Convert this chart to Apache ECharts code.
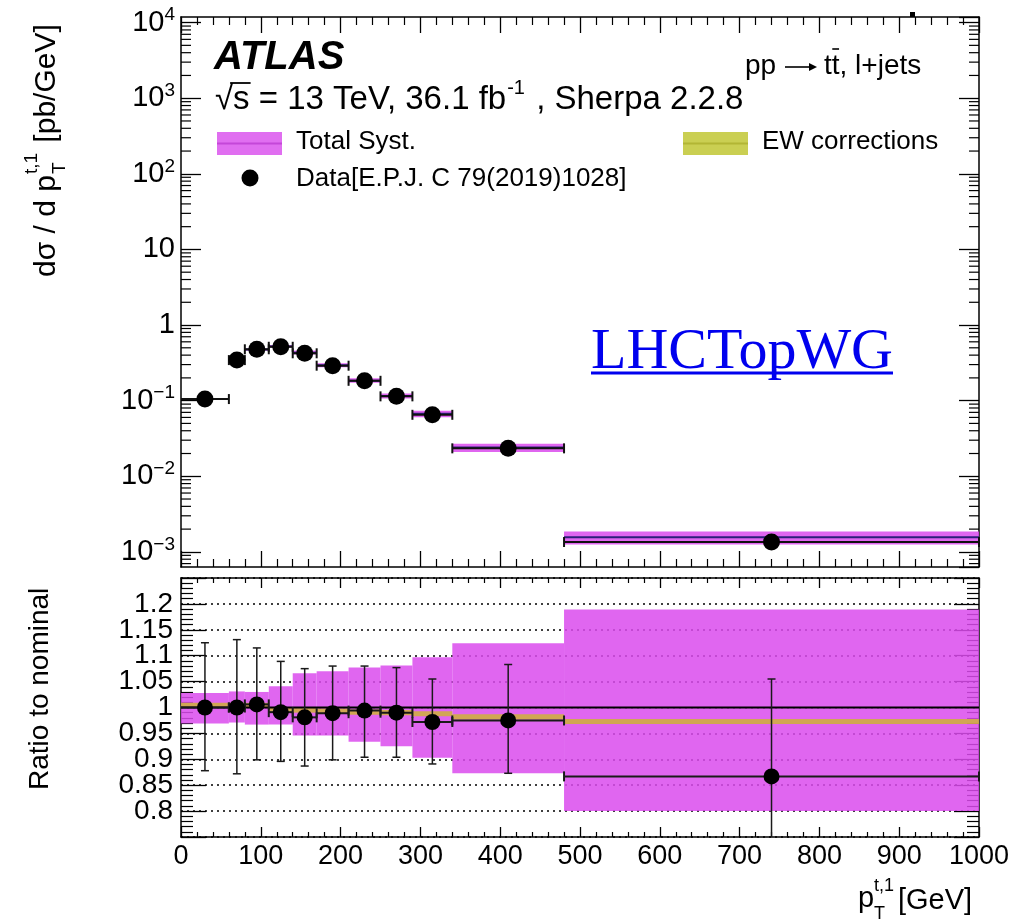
<!DOCTYPE html>
<html><head><meta charset="utf-8">
<script src="https://cdn.jsdelivr.net/npm/echarts@6/dist/echarts.min.js"></script>
<style>html,body{margin:0;padding:0;background:#fff}#c{width:1032px;height:922px}</style>
</head><body><div id="c"></div>
<script>
// ---- data ----
const binEdges      = [0, 60, 80, 110, 140, 170, 210, 250, 290, 340, 480, 1000];
const binCenters    = [30, 70, 95, 125, 155, 190, 230, 270, 315, 410, 740];
const dataXsec      = [0.105, 0.344, 0.478, 0.516, 0.423, 0.290, 0.183, 0.114, 0.065, 0.0234, 0.00135];
const predXsec      = [0.105, 0.344, 0.475, 0.521, 0.431, 0.293, 0.184, 0.115, 0.0669, 0.0240, 0.00156];
const dataRatio     = [1.000, 1.000, 1.006, 0.991, 0.981, 0.989, 0.994, 0.990, 0.972, 0.975, 0.867];
const dataRatioUp   = [1.125, 1.131, 1.115, 1.089, 1.075, 1.080, 1.080, 1.077, 1.055, 1.083, 1.055];
const dataRatioDown = [0.878, 0.872, 0.899, 0.896, 0.887, 0.899, 0.904, 0.904, 0.891, 0.873, 0.679];
const systUp        = [1.028, 1.031, 1.030, 1.041, 1.066, 1.070, 1.077, 1.081, 1.097, 1.124, 1.189];
const systDown      = [0.969, 0.971, 0.967, 0.967, 0.946, 0.946, 0.934, 0.925, 0.903, 0.873, 0.800];
const ewCorr        = [1.004, 1.004, 1.004, 0.996, 0.995, 0.993, 0.991, 0.990, 0.988, 0.982, 0.973];
const ewHalfWidth   = 0.005;
const ratioTickLabels = [0.8, 0.85, 0.9, 0.95, 1, 1.05, 1.1, 1.15, 1.2];
const logMinorMult  = [2, 3, 4, 5, 6, 7, 8, 9];
const logDecades    = [-4, -3, -2, -1, 0, 1, 2, 3];

// ---- style ----
const SANS = '"Liberation Sans", Arial, Helvetica, sans-serif';
const SERIF = '"Liberation Serif", "Times New Roman", serif';
const MAG = 'rgba(219,75,237,0.85)';
const EWC = 'rgba(205,185,40,0.78)';
const YMIN = Math.pow(10, -3.2), YMAX = Math.pow(10, 4.074);

const ctx = document.createElement('canvas').getContext('2d');
function tw(s, font) { ctx.font = font; return ctx.measureText(s).width; }

const nb = binCenters.length;
const idx = Array.from({length: nb}, (_, i) => i);
const topBandData = idx.map(i => [binEdges[i], binEdges[i+1], predXsec[i]*systDown[i], predXsec[i]*systUp[i], predXsec[i]]);
const topXerrData = idx.map(i => [binEdges[i], binEdges[i+1], dataXsec[i]]);
const ratioBandData = idx.map(i => [binEdges[i], binEdges[i+1], systDown[i], systUp[i]]);
const ewBandData = idx.map(i => [binEdges[i], binEdges[i+1], ewCorr[i]-ewHalfWidth, ewCorr[i]+ewHalfWidth]);
const ratioErrData = idx.map(i => [binEdges[i], binEdges[i+1], dataRatio[i], dataRatioDown[i], dataRatioUp[i], binCenters[i]]);
const minorTickVals = [];
logDecades.forEach(e => logMinorMult.forEach(k => { const v = k*Math.pow(10, e); if (v > YMIN && v < YMAX) minorTickVals.push([0, v]); }));

const frame = {show: true, onZero: false, lineStyle: {color: '#000', width: 1.5}};
function xAx(grid, pos, len, mlen, labels) {
  return {gridIndex: grid, type: 'value', min: 0, max: 1000, interval: 100, position: pos,
    axisLine: frame, splitLine: {show: false},
    axisTick: {show: true, inside: true, length: len, lineStyle: {color: '#000', width: 1.3}},
    minorTick: {show: true, splitNumber: 5, length: mlen, lineStyle: {color: '#000', width: 1.2}},
    axisLabel: labels ? {show: true, color: '#000', fontFamily: SANS, fontSize: 27, margin: 6, formatter: v => String(v)} : {show: false}};
}
const logFmt = v => { const e = Math.round(Math.log10(v)); if (e === 0) return '{b|1}'; if (e === 1) return '{b|10}'; return '{b|10}{s|' + (e < 0 ? '\u2212' : '') + Math.abs(e) + '}'; };
function yLog(pos, labels) {
  return {gridIndex: 0, type: 'log', logBase: 10, min: YMIN, max: YMAX, position: pos,
    axisLine: frame, splitLine: {show: false},
    axisTick: {show: true, inside: true, length: 20, lineStyle: {color: '#000', width: 1.3}},
    minorTick: {show: false},
    axisLabel: labels ? {show: true, showMinLabel: false, showMaxLabel: false, margin: 6, formatter: logFmt,
      rich: {b: {fontSize: 29, fontFamily: SANS, color: '#000', lineHeight: 34},
             s: {fontSize: 19, fontFamily: SANS, color: '#000', verticalAlign: 'top', lineHeight: 18}}} : {show: false}};
}
function yRatio(pos, labels) {
  return {gridIndex: 1, type: 'value', min: 0.75, max: 1.25, interval: 0.05, position: pos,
    axisLine: frame,
    splitLine: labels ? {show: true, lineStyle: {color: '#000', width: 1.5, type: [2, 4]}} : {show: false},
    axisTick: {show: true, inside: true, length: 25, lineStyle: {color: '#000', width: 1.3}},
    minorTick: {show: true, splitNumber: 5, length: 12, lineStyle: {color: '#000', width: 1.2}},
    axisLabel: labels ? {show: true, showMinLabel: false, showMaxLabel: false, margin: 8, color: '#000', fontFamily: SANS, fontSize: 28,
      formatter: v => ratioTickLabels.some(t => Math.abs(t - v) < 1e-6) ? String(+v.toFixed(2)) : ''} : {show: false}};
}

function rectItem(api, lo, hi, yl, yh, fill) {
  const a = api.coord([lo, yh]), b = api.coord([hi, yl]);
  return {type: 'rect', shape: {x: a[0], y: a[1], width: b[0]-a[0], height: b[1]-a[1]}, style: {fill: fill}};
}
function hbar(api, lo, hi, y, color, w, capFirst) {
  const a = api.coord([lo, y]), b = api.coord([hi, y]);
  const ch = [{type: 'line', shape: {x1: a[0], y1: a[1], x2: b[0], y2: b[1]}, style: {stroke: color, lineWidth: w}}];
  if (capFirst) ch.push({type: 'line', shape: {x1: a[0], y1: a[1]-5, x2: a[0], y2: a[1]+5}, style: {stroke: color, lineWidth: w}});
  ch.push({type: 'line', shape: {x1: b[0], y1: b[1]-5, x2: b[0], y2: b[1]+5}, style: {stroke: color, lineWidth: w}});
  return ch;
}

const lineW = 1.5;
const option = {
  animation: false,
  backgroundColor: '#fff',
  grid: [
    {left: 181, top: 17, width: 798, height: 550, outerBoundsMode: 'none', containLabel: false},
    {left: 181, top: 578, width: 798, height: 259, outerBoundsMode: 'none', containLabel: false}
  ],
  xAxis: [xAx(0, 'bottom', 16, 8, false), xAx(0, 'top', 16, 8, false), xAx(1, 'bottom', 10, 5, true), xAx(1, 'top', 10, 5, false)],
  yAxis: [yLog('left', true), yLog('right', false), yRatio('left', true), yRatio('right', false)],
  series: [
    {type: 'custom', xAxisIndex: 0, yAxisIndex: 0, silent: true, z: 1, data: minorTickVals, encode: {x: 0, y: 1},
     renderItem: (p, api) => { const c = api.coord([0, api.value(1)]); const cs = p.coordSys;
       return {type: 'group', children: [
         {type: 'line', shape: {x1: cs.x, y1: c[1], x2: cs.x+10, y2: c[1]}, style: {stroke: '#000', lineWidth: 1.2}},
         {type: 'line', shape: {x1: cs.x+cs.width-10, y1: c[1], x2: cs.x+cs.width, y2: c[1]}, style: {stroke: '#000', lineWidth: 1.2}}]}; }},
    {type: 'custom', name: 'Total Syst.', xAxisIndex: 0, yAxisIndex: 0, z: 2, data: topBandData, encode: {x: [0, 1], y: [2, 3, 4]},
     renderItem: (p, api) => {
       const lo = api.value(0), hi = api.value(1);
       const a = api.coord([lo, api.value(4)]), b = api.coord([hi, api.value(4)]);
       return {type: 'group', children: [rectItem(api, lo, hi, api.value(2), api.value(3), MAG),
         {type: 'line', shape: {x1: a[0], y1: a[1], x2: b[0], y2: b[1]}, style: {stroke: '#2d1f7a', lineWidth: 2}}]}; }},
    {type: 'custom', xAxisIndex: 0, yAxisIndex: 0, z: 3, data: topXerrData, encode: {x: [0, 1], y: 2},
     renderItem: (p, api) => ({type: 'group', children: hbar(api, api.value(0), api.value(1), api.value(2), '#111', 2, api.value(0) > 0)})},
    {type: 'scatter', name: 'Data', xAxisIndex: 0, yAxisIndex: 0, z: 5, symbol: 'circle', symbolSize: 17,
     itemStyle: {color: '#000', opacity: 1}, data: idx.map(i => [binCenters[i], dataXsec[i]])},

    {type: 'custom', xAxisIndex: 2, yAxisIndex: 2, z: 1, data: ratioBandData, encode: {x: [0, 1], y: [2, 3]},
     renderItem: (p, api) => rectItem(api, api.value(0), api.value(1), api.value(2), api.value(3), MAG)},
    {type: 'custom', name: 'EW corrections', xAxisIndex: 2, yAxisIndex: 2, z: 2, data: ewBandData, encode: {x: [0, 1], y: [2, 3]},
     renderItem: (p, api) => rectItem(api, api.value(0), api.value(1), api.value(2), api.value(3), EWC)},
    {type: 'line', xAxisIndex: 2, yAxisIndex: 2, z: 3, symbol: 'none', silent: true,
     lineStyle: {color: '#000', width: 2}, data: [[0, 1], [1000, 1]]},
    {type: 'custom', xAxisIndex: 2, yAxisIndex: 2, z: 4, data: ratioErrData, encode: {x: [0, 1, 5], y: [2, 3, 4]},
     renderItem: (p, api) => {
       const cs = p.coordSys; const yb = cs.y + cs.height, yt = cs.y;
       const ch = hbar(api, api.value(0), api.value(1), api.value(2), '#1a1a1a', 2, api.value(0) > 0);
       const lo = api.coord([api.value(5), api.value(3)]), hi = api.coord([api.value(5), api.value(4)]);
       const y1 = Math.min(lo[1], yb), y2 = Math.max(hi[1], yt);
       ch.push({type: 'line', shape: {x1: lo[0], y1: y1, x2: hi[0], y2: y2}, style: {stroke: '#1a1a1a', lineWidth: lineW}});
       if (lo[1] <= yb) ch.push({type: 'line', shape: {x1: lo[0]-4, y1: lo[1], x2: lo[0]+4, y2: lo[1]}, style: {stroke: '#1a1a1a', lineWidth: lineW}});
       if (hi[1] >= yt) ch.push({type: 'line', shape: {x1: hi[0]-4, y1: hi[1], x2: hi[0]+4, y2: hi[1]}, style: {stroke: '#1a1a1a', lineWidth: lineW}});
       return {type: 'group', children: ch}; }},
    {type: 'scatter', xAxisIndex: 2, yAxisIndex: 2, z: 5, symbol: 'circle', symbolSize: 16,
     itemStyle: {color: '#000', opacity: 1}, data: idx.map(i => [binCenters[i], dataRatio[i]])}
  ],
  graphic: []
};

// ---- annotations ----
const G = option.graphic;
function txt(x, y, text, font, opts) {
  const o = Object.assign({align: 'left', vAlign: 'middle', fill: '#000'}, opts || {});
  return {type: 'text', x: x, y: y, z: 100, silent: true,
    style: {text: text, font: font, fill: o.fill, align: o.align, textAlign: o.align, verticalAlign: o.vAlign, textVerticalAlign: o.vAlign}};
}
function seg(x1, y1, x2, y2, w, color) {
  return {type: 'line', z: 100, silent: true, shape: {x1: x1, y1: y1, x2: x2, y2: y2}, style: {stroke: color || '#000', lineWidth: w}};
}
const F40bi = 'italic bold 40px ' + SANS;
G.push(txt(214, 58, 'ATLAS', F40bi));
const F33 = '33px ' + SANS, F20 = '20px ' + SANS;
const s1 = '\u221As = 13 TeV, 36.1 fb';
G.push(txt(215, 100, s1, F33));
const s1w = tw(s1, F33);
G.push(txt(215 + s1w + 1, 88, '-1', F20));
G.push(txt(215 + s1w + tw('-1', F20) + 3, 100, ' , Sherpa 2.2.8', F33));
const sqW = tw('\u221A', F33), sW = tw('s', F33);
G.push(seg(215 + sqW - 3, 83, 215 + sqW + sW + 1, 83, 1.8));

// pp -> tt~, l+jets
const F28 = '28px ' + SANS;
G.push(txt(745, 66, 'pp', F28));
G.push(seg(785, 67, 814, 67, 1.6));
G.push({type: 'polygon', z: 100, silent: true, shape: {points: [[817, 67], [809, 63], [809, 71]]}, style: {fill: '#000'}});
const ttx = 824;
G.push(txt(ttx, 66, 'tt, l+jets', F28));
const tW = tw('t', F28);
G.push(seg(ttx + tW + 0.5, 49, ttx + 2 * tW - 0.5, 49, 1.6));

// legend
const F26 = '26px ' + SANS;
G.push({type: 'rect', z: 100, silent: true, shape: {x: 217, y: 132, width: 65, height: 23}, style: {fill: '#e06ef0'}});
G.push(seg(217, 143.5, 282, 143.5, 2, '#c447d8'));
G.push(txt(296, 142, 'Total Syst.', F26));
G.push({type: 'circle', z: 100, silent: true, shape: {cx: 250, cy: 178, r: 8.5}, style: {fill: '#000'}});
G.push(txt(296, 179, 'Data[E.P.J. C 79(2019)1028]', F26));
G.push({type: 'rect', z: 100, silent: true, shape: {x: 683, y: 132, width: 65, height: 23}, style: {fill: '#cacf52'}});
G.push(seg(683, 143.5, 748, 143.5, 2, '#b2b634'));
G.push(txt(762, 142, 'EW corrections', F26));

// LHCTopWG
const F58s = '58px ' + SERIF;
const lw = tw('LHCTopWG', F58s);
G.push(txt(591, 353, 'LHCTopWG', F58s, {fill: '#0000ee'}));
G.push(seg(591, 373, 591 + lw, 373, 3, '#0000ee'));

// y title (top)
const FT = '30px ' + SANS, FS = '19px ' + SANS;
const yt1 = 'd\u03C3 / d p';
const yt1w = tw(yt1, FT);
const supW = Math.max(tw('t,1', FS), tw('T', FS));
G.push({type: 'group', x: 47, y: 277, rotation: Math.PI / 2, z: 100, silent: true, children: [
  txt(0, 0, yt1, FT),
  txt(yt1w + 1, -15, 't,1', FS),
  txt(yt1w + 1, 13, 'T', FS),
  txt(yt1w + supW + 3, 0, ' [pb/GeV]', FT)
]});
// ratio title
const FR = '28px ' + SANS;
G.push({type: 'group', x: 40, y: 790, rotation: Math.PI / 2, z: 100, silent: true, children: [txt(0, 0, 'Ratio to nominal', FR)]});
// x title
const FX = '29px ' + SANS, FXS = '18px ' + SANS;
G.push(txt(858, 899, 'p', FX));
G.push(txt(874, 886, 't,1', FXS));
G.push(txt(874, 914, 'T', FXS));
G.push(txt(898, 901, '[GeV]', FX));
// small cropped mark at top
G.push({type: 'rect', z: 100, silent: true, shape: {x: 910, y: 12, width: 5, height: 5}, style: {fill: '#000'}});

const chart = echarts.init(document.getElementById('c'), null, {renderer: 'canvas'});
chart.setOption(option);
</script></body></html>
